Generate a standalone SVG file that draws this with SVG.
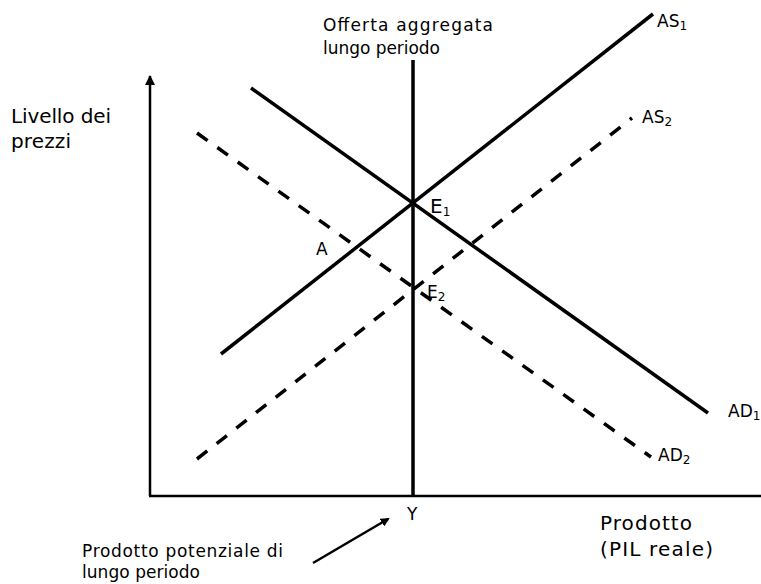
<svg xmlns="http://www.w3.org/2000/svg" width="761" height="584" viewBox="0 0 761 584">
<defs>
<style>
text{font-family:"DejaVu Sans","Liberation Sans",sans-serif;font-size:17px;fill:#000}
.big{font-size:20px}
.sub{font-size:12px}
.solid{stroke:#000;stroke-width:3.5;fill:none}
.dash{stroke:#000;stroke-width:3.5;fill:none;stroke-dasharray:13 12}
.axis{stroke:#000;stroke-width:2.5;fill:none}
</style>
<marker id="ah" markerWidth="9" markerHeight="9" refX="7" refY="4.5" orient="auto" markerUnits="userSpaceOnUse" viewBox="0 0 9 9">
<path d="M0,0 L9,4.5 L0,9 Z" fill="#000"/>
</marker>
<marker id="ah2" markerWidth="10" markerHeight="10" refX="9" refY="5" orient="auto" markerUnits="userSpaceOnUse" viewBox="0 0 10 10">
<path d="M0,0 L10,5 L0,10 Z" fill="#000"/>
</marker>
</defs>
<rect width="761" height="584" fill="#fff"/>
<g id="connectors">
<line class="axis" x1="150" y1="496" x2="150" y2="76" marker-end="url(#ah2)"/>
<line class="axis" x1="149" y1="496" x2="761" y2="496"/>
<line class="solid" x1="413" y1="60" x2="413" y2="496"/>
<line class="solid" x1="221" y1="354" x2="653" y2="14"/>
<line class="solid" x1="251" y1="88" x2="708" y2="413"/>
<line class="dash" x1="197" y1="459" x2="632" y2="118"/>
<line class="dash" x1="197" y1="133" x2="651" y2="457"/>
<line stroke="#000" stroke-width="2.5" x1="313" y1="563" x2="388" y2="519" marker-end="url(#ah)"/>
</g>
<g id="label-y-axis"><text class="big" x="11" y="123" textLength="100">Livello dei</text><text class="big" x="11" y="148" textLength="60">prezzi</text></g>
<g id="label-lras"><text x="323" y="31" textLength="170">Offerta aggregata</text><text x="323" y="54" textLength="117">lungo periodo</text></g>
<g id="label-as1"><text x="657" y="27">AS<tspan class="sub" dy="3">1</tspan></text></g>
<g id="label-as2"><text x="642" y="123">AS<tspan class="sub" dy="3">2</tspan></text></g>
<g id="label-e1"><text class="big" x="430" y="213" font-size="18">E<tspan class="sub" dy="3">1</tspan></text></g>
<g id="label-a"><text x="316" y="255">A</text></g>
<g id="label-e2"><text x="427" y="298" font-size="18">E<tspan class="sub" dy="3">2</tspan></text></g>
<g id="label-ad1"><text x="728" y="417">AD<tspan class="sub" dy="3">1</tspan></text></g>
<g id="label-ad2"><text x="658" y="461">AD<tspan class="sub" dy="3">2</tspan></text></g>
<g id="label-yval"><text x="407" y="520" font-size="19">Y</text></g>
<g id="label-x-axis"><text class="big" x="600" y="530" textLength="92">Prodotto</text><text class="big" x="600" y="556" textLength="113">(PIL reale)</text></g>
<g id="label-potential"><text x="82" y="557" textLength="201">Prodotto potenziale di</text><text x="82" y="578" textLength="118">lungo periodo</text></g>
</svg>
